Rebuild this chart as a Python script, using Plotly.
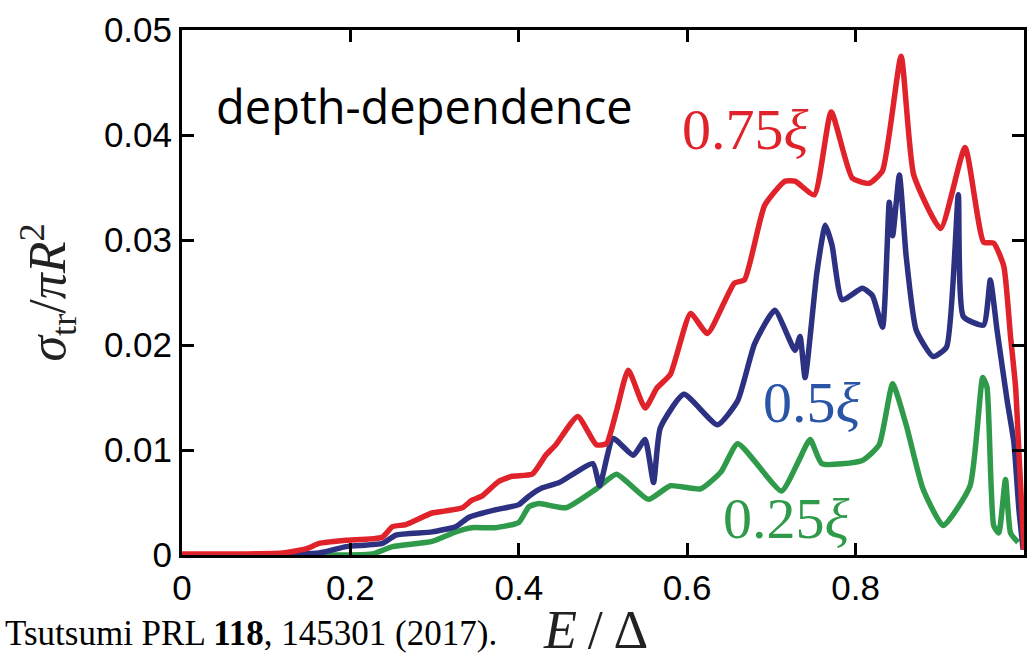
import plotly.graph_objects as go

# Energy E/Delta and cross sections for depths 0.75xi, 0.5xi, 0.25xi
x_red = [0.0, 0.06, 0.12, 0.148, 0.163, 0.195, 0.238, 0.250, 0.266, 0.297, 0.313, 0.333, 0.344, 0.356,
         0.376, 0.392, 0.416, 0.432, 0.444, 0.470, 0.492, 0.504, 0.516, 0.530, 0.550, 0.564, 0.580,
         0.604, 0.624, 0.656, 0.668, 0.692, 0.716, 0.728, 0.751, 0.771, 0.796, 0.816, 0.832, 0.854,
         0.869, 0.901, 0.930, 0.952, 0.964, 0.976, 0.984, 0.990, 0.995, 1.0]
y_red = [0.0001, 0.0001, 0.0002, 0.0006, 0.0011, 0.0014, 0.0017, 0.0027, 0.0029, 0.0040, 0.0042, 0.0045,
         0.0052, 0.0056, 0.0070, 0.0075, 0.0077, 0.0095, 0.0105, 0.0132, 0.0105, 0.0106, 0.0137, 0.0176,
         0.0140, 0.0159, 0.0172, 0.0230, 0.0211, 0.0259, 0.0262, 0.0333, 0.0356, 0.0356, 0.0343, 0.0422,
         0.0359, 0.0354, 0.0366, 0.0475, 0.0362, 0.0311, 0.0388, 0.0298, 0.0297, 0.0275, 0.0208, 0.0160,
         0.0081, 0.0005]

x_blue = [0.0, 0.08, 0.163, 0.195, 0.238, 0.254, 0.297, 0.325, 0.341, 0.372, 0.400, 0.412, 0.428, 0.448,
          0.488, 0.496, 0.512, 0.536, 0.550, 0.560, 0.568, 0.596, 0.636, 0.660, 0.680, 0.704, 0.728,
          0.734, 0.740, 0.754, 0.764, 0.772, 0.784, 0.808, 0.820, 0.832, 0.840, 0.844, 0.852, 0.860,
          0.872, 0.892, 0.908, 0.922, 0.928, 0.952, 0.960, 0.968, 0.980, 0.988, 0.994, 0.999]
y_blue = [0.0, 0.0, 0.0002, 0.0008, 0.0011, 0.0019, 0.0022, 0.0027, 0.0036, 0.0043, 0.0048, 0.0056,
          0.0064, 0.0069, 0.0087, 0.0066, 0.0111, 0.0095, 0.0110, 0.0069, 0.0121, 0.0153, 0.0124,
          0.0147, 0.0201, 0.0233, 0.0195, 0.0208, 0.0169, 0.0269, 0.0314, 0.0295, 0.0243, 0.0254,
          0.0247, 0.0217, 0.0336, 0.0304, 0.0362, 0.0285, 0.0214, 0.0189, 0.0198, 0.0343, 0.0227,
          0.0219, 0.0262, 0.0214, 0.0147, 0.0107, 0.0043, 0.0005]

x_green = [0.0, 0.12, 0.226, 0.250, 0.297, 0.325, 0.344, 0.372, 0.400, 0.412, 0.424, 0.456, 0.492,
           0.516, 0.554, 0.580, 0.616, 0.640, 0.660, 0.712, 0.732, 0.746, 0.760, 0.808, 0.828, 0.844,
           0.860, 0.880, 0.904, 0.936, 0.951, 0.956, 0.964, 0.970, 0.978, 0.984, 0.993]
y_green = [0.0, 0.0, 0.0001, 0.0008, 0.0013, 0.0022, 0.0026, 0.0026, 0.0031, 0.0046, 0.0049, 0.0045,
           0.0063, 0.0077, 0.0053, 0.0066, 0.0063, 0.0079, 0.0106, 0.0061, 0.0089, 0.0110, 0.0087,
           0.0090, 0.0105, 0.0163, 0.0124, 0.0063, 0.0028, 0.0066, 0.0169, 0.0160, 0.0028, 0.0021,
           0.0072, 0.0021, 0.0012]

x_ticks = [0, 0.2, 0.4, 0.6, 0.8, 1]
x_tick_text = ["0", "0.2", "0.4", "0.6", "0.8", "1"]
y_ticks = [0, 0.01, 0.02, 0.03, 0.04, 0.05]
y_tick_text = ["0", "0.01", "0.02", "0.03", "0.04", "0.05"]

RED = "#e0232b"
BLUE = "#2c3182"
GREEN = "#2f9b4a"

fig = go.Figure()
for xs, ys, c in [(x_green, y_green, GREEN), (x_blue, y_blue, BLUE), (x_red, y_red, RED)]:
    fig.add_trace(go.Scatter(x=xs, y=ys, mode="lines",
                             line=dict(color=c, width=5.5, shape="spline", smoothing=0.5),
                             showlegend=False, hoverinfo="skip"))

axis_common = dict(showline=True, linecolor="black", linewidth=3, mirror="ticks",
                   ticks="inside", ticklen=12, tickwidth=3, tickcolor="black",
                   showgrid=False, zeroline=False,
                   tickfont=dict(family="Liberation Sans, Arial", size=35, color="black"))

fig.update_xaxes(range=[0, 1], tickvals=x_ticks, ticktext=x_tick_text, **axis_common)
fig.update_yaxes(range=[0, 0.05], tickvals=y_ticks, ticktext=y_tick_text, **axis_common)

serif = "Liberation Serif, DejaVu Serif, serif"
fig.add_annotation(x=0.038, y=0.0428, xref="x", yref="y", text="depth-dependence", showarrow=False,
                   xanchor="left", yanchor="middle",
                   font=dict(family="Open Sans, sans-serif", size=47, color="black"))
fig.add_annotation(x=0.592, y=0.0405, xref="x", yref="y", text="0.75<i>ξ</i>", showarrow=False,
                   xanchor="left", yanchor="middle", font=dict(family=serif, size=58, color=RED))
fig.add_annotation(x=0.688, y=0.0145, xref="x", yref="y", text="0.5<i>ξ</i>", showarrow=False,
                   xanchor="left", yanchor="middle", font=dict(family=serif, size=58, color="#2a55a6"))
fig.add_annotation(x=0.64, y=0.0035, xref="x", yref="y", text="0.25<i>ξ</i>", showarrow=False,
                   xanchor="left", yanchor="middle", font=dict(family=serif, size=58, color=GREEN))

# y-axis label, x-axis label, citation (positioned in paper coords)
fig.add_annotation(x=-0.159, y=0.5, xref="paper", yref="paper",
                   text="<i>σ</i><sub>tr</sub>/<i>πR</i><sup>2</sup>", textangle=-90, showarrow=False,
                   xanchor="center", yanchor="middle", font=dict(family=serif, size=52, color="#222"))
fig.add_annotation(x=0.491, y=-0.142, xref="paper", yref="paper",
                   text="<i>E</i>\u2009/\u2009Δ", showarrow=False, xanchor="center", yanchor="middle",
                   font=dict(family=serif, size=54, color="#222"))
fig.add_annotation(x=0.377, y=-0.15, xref="paper", yref="paper",
                   text="Tsutsumi PRL <b>118</b>, 145301 (2017).", showarrow=False,
                   xanchor="right", yanchor="middle", font=dict(family=serif, size=35, color="black"))

fig.update_layout(width=1030, height=664, margin=dict(l=182, r=3, t=30, b=109),
                  plot_bgcolor="white", paper_bgcolor="white")

fig.write_html("out.html")
